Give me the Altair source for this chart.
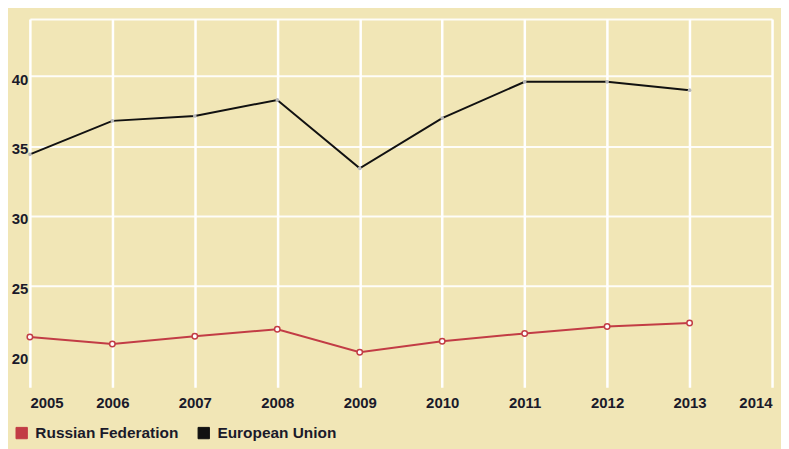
import altair as alt
import pandas as pd

years = [2005, 2006, 2007, 2008, 2009, 2010, 2011, 2012, 2013]
russia = [21.3, 20.8, 21.35, 21.85, 20.2, 21.0, 21.55, 22.05, 22.3]
eu = [34.4, 36.8, 37.15, 38.3, 33.4, 37.0, 39.6, 39.6, 39.0]
x_ticks = [2005, 2006, 2007, 2008, 2009, 2010, 2011, 2012, 2013, 2014]
y_ticks = [20, 25, 30, 35, 40, 44.1]
series_names = ["Russian Federation", "European Union"]
series_colors = ["#c23c45", "#111111"]

rows = []
for y, r, e in zip(years, russia, eu):
    rows.append({"year": y, "series": series_names[0], "value": r})
    rows.append({"year": y, "series": series_names[1], "value": e})
df = pd.DataFrame(rows)

FONT = "Liberation Sans, Arial, sans-serif"

x = alt.X("year:Q",
          scale=alt.Scale(domain=[2005, 2014], nice=False, zero=False),
          axis=alt.Axis(values=x_ticks, format="d", title=None, ticks=False, domain=False,
                        labelFlush=True, labelPadding=8, gridColor="white", gridWidth=2.5,
                        gridOpacity=1))
y = alt.Y("value:Q",
          scale=alt.Scale(domain=[17.7, 44.1], nice=False, zero=False),
          axis=alt.Axis(values=y_ticks, title=None, ticks=False, domain=False,
                        labelExpr="datum.value > 41 ? '' : datum.label",
                        labelPadding=2, labelOffset=3, gridColor="white", gridWidth=2,
                        gridOpacity={"condition": {"test": "datum.value == 20", "value": 0}, "value": 0.9}))

color = alt.Color("series:N",
                  scale=alt.Scale(domain=series_names, range=series_colors),
                  legend=alt.Legend(title=None, orient="none", legendX=-16, legendY=408,
                                    direction="horizontal", symbolType="square",
                                    symbolSize=130, symbolStrokeWidth=1, symbolOpacity=1,
                                    labelFontSize=15.5, labelFont=FONT, labelFontWeight="bold",
                                    labelColor="#1a1a2a", columnPadding=17, padding=0,
                                    labelOffset=6))

base = alt.Chart(df)
legend_layer = base.mark_point(shape="square", filled=True, opacity=0, size=1).encode(
    x=x, y=y, color=color)
lines = base.mark_line(strokeWidth=2).encode(x="year:Q", y="value:Q", color=color)
pts_ru = base.transform_filter(alt.datum.series == series_names[0]).mark_point(
    filled=True, fill="white", stroke="#c23c45", strokeWidth=1.5, size=30, opacity=1
).encode(x="year:Q", y="value:Q")
pts_eu = base.transform_filter(alt.datum.series == series_names[1]).mark_circle(
    size=14, color="#b8b8b8", opacity=1
).encode(x="year:Q", y="value:Q")

chart = alt.layer(legend_layer, lines, pts_eu, pts_ru).properties(
    width=746, height=370,
    autosize=alt.AutoSizeParams(type="none"),
    padding={"left": 22, "top": 10, "right": 9, "bottom": 61},
    background="#f1e6b6",
).configure_view(stroke=None).configure_axis(
    labelFont=FONT, labelFontSize=15, labelFontWeight="bold", labelColor="#1a1a2a"
)

chart.save("out.html", embed_options={"renderer": "svg", "actions": False})
